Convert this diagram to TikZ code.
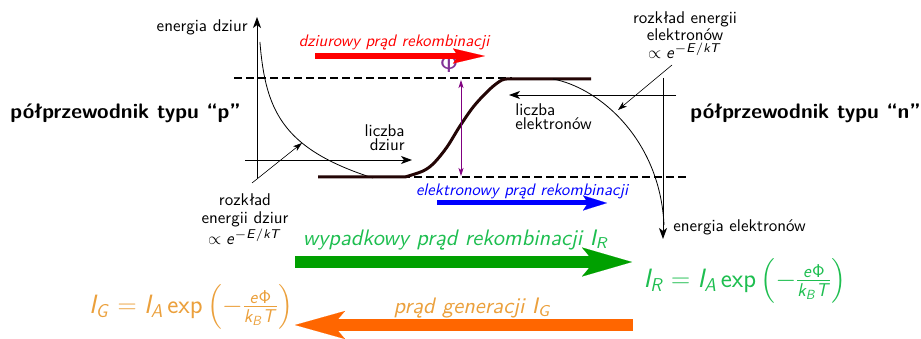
\RequirePackage{fix-cm}
\documentclass[tikz,border=0pt]{standalone}
\usepackage{exscale}
\usetikzlibrary{arrows.meta}
% sans-serif letters for the formulas
\DeclareMathAlphabet{\mathssup}{OT1}{cmss}{m}{n}
\DeclareMathAlphabet{\mathssit}{OT1}{cmss}{m}{sl}
\definecolor{holered}{RGB}{255,0,0}
\definecolor{elblue}{RGB}{0,0,255}
\definecolor{netgreen}{RGB}{0,160,0}
\definecolor{netgreentext}{RGB}{30,190,80}
\definecolor{genorange}{RGB}{255,102,0}
\definecolor{genorangetext}{RGB}{235,160,60}
\definecolor{phipurple}{RGB}{128,0,128}
\definecolor{phitext}{RGB}{130,50,150}
\definecolor{bandbrown}{RGB}{35,5,5}
% Boltzmann factor with a fairly large exponent
\newcommand{\boltz}{$\propto\mathssit{e}^{\hbox{\fontsize{7.5}{8}\selectfont$-\mathssit{E}/\mathssit{kT}$}}$}
% current formula I_X = I_A exp(-e Phi / k_B T)
\newcommand{\curfml}[1]{$\mathssit{I}_{\mathssit{#1}} = \mathssit{I}_{\mathssit{A}}\,\mathssup{exp}\left(\vrule height 29pt depth 16pt width 0pt -\frac{\mathssit{e}\mathssup{\Phi}}{\mathssit{k}_{\mathssit{B}}\mathssit{T}}\right)$}
\begin{document}
\begin{tikzpicture}[x=1pt,y=-1pt,
  every node/.style={font=\sffamily, inner sep=0pt},
  smalltxt/.style={font=\sffamily\fontsize{10}{10}\selectfont, scale=1.7, align=center},
  boldtxt/.style={font=\sffamily\bfseries\fontsize{21}{24}\selectfont},
  curtxt/.style={font=\sffamily\slshape\fontsize{10}{12}\selectfont, scale=1.67},
  bigtxt/.style={font=\sffamily\slshape\fontsize{10}{12}\selectfont, scale=2.24},
  formula/.style={font=\sffamily\fontsize{26.5}{30}\selectfont},
  axis/.style={line width=0.8pt, -{Stealth[length=11pt,width=8pt,inset=3pt]}},
  pointer/.style={line width=0.6pt, -{Stealth[length=9pt,width=6pt,inset=2.5pt]}},
  dashline/.style={line width=1.1pt, dash pattern=on 8pt off 4pt},
  band/.style={line width=3pt, draw=bandbrown, line join=round},
  curve/.style={line width=0.8pt},
]
\useasboundingbox (0,0) rectangle (921,339);

% ---- hole side (p type) ----
\coordinate (hAxB) at (257,178);
\coordinate (hAxT) at (257,17);
\draw[axis] (hAxB) -- (hAxT);
\node[smalltxt, anchor=east] (holeE) at (248,27) {energia dziur};
\coordinate (hNumL) at (245,160);
\coordinate (hNumR) at (412,160);
\draw[axis] (hNumL) -- (hNumR);
\node[smalltxt, font=\sffamily\fontsize{10}{8.2}\selectfont, align=right, anchor=east] (holeN) at (405,138) {liczba\\dziur};
\draw[curve] plot[domain=42:178, samples=80] ({257+116*exp(-(178-\x)/37)}, \x);
\node[smalltxt, font=\sffamily\fontsize{10}{10.5}\selectfont] (holeDist) at (245,219) {rozkład\\energii dziur\\\boltz};
\coordinate (hPtrS) at (252,183);
\coordinate (hPtrE) at (302,143);
\draw[pointer] (hPtrS) -- (hPtrE);

% ---- band edges ----
\coordinate (topL) at (234,78);
\coordinate (topR) at (512,78);
\draw[dashline] (topL) -- (topR);
\coordinate (botL) at (318,177);
\coordinate (botR) at (688,177);
\draw[dashline] (botL) -- (botR);
\draw[band] (318,177) -- (405,177)
  plot[smooth, tension=0.55] coordinates {(405,177) (423,171) (434,163) (447,147) (460,126) (474,106) (490,89) (502,80) (510,79)}
  -- (591,79);

% barrier height
\coordinate (pA) at (461,80);
\coordinate (pB) at (461,176);
\draw[phipurple, line width=0.8pt, {Stealth[length=8pt,width=5pt,inset=2pt]}-{Stealth[length=8pt,width=5pt,inset=2pt]}] (pA) -- (pB);
\node[text=phitext, font=\sffamily\fontsize{27}{30}\selectfont] (phi) at (449,63) {$\mathssup{\Phi}$};

% ---- electron side (n type) ----
\coordinate (eAxT) at (663,78);
\coordinate (eAxB) at (663,239);
\draw[axis] (eAxT) -- (eAxB);
\node[smalltxt, anchor=west] (elE) at (673,227) {energia elektronów};
\coordinate (eNumR) at (676,95);
\coordinate (eNumL) at (509,95);
\draw[axis] (eNumR) -- (eNumL);
\node[smalltxt, font=\sffamily\fontsize{10}{8.2}\selectfont, align=left, anchor=north west] (elN) at (515,103) {liczba\\elektronów};
\draw[curve] (553,79) .. controls (600,88) and (660,140) .. (664,225);
\node[smalltxt, font=\sffamily\fontsize{10}{10.5}\selectfont] (elDist) at (685,35) {rozkład energii\\elektronów\\\boltz};
\coordinate (ePtrS) at (672,65);
\coordinate (ePtrE) at (618,110);
\draw[pointer] (ePtrS) -- (ePtrE);

% ---- region labels ----
\node[boldtxt] (pSide) at (125.5,113) {półprzewodnik typu “p”};
\node[boldtxt] (nSide) at (805.5,113) {półprzewodnik typu “n”};

% ---- recombination currents ----
\node[curtxt, text=holered] (holeCur) at (394,42) {dziurowy prąd rekombinacji};
\coordinate (hcA) at (315,56);
\coordinate (hcB) at (485,56);
\draw[holered, line width=6pt, -{Stealth[length=32pt,width=15pt,inset=5pt,line width=0.1pt]}] (hcA) -- (hcB);

\node[curtxt, text=elblue] (elCur) at (522,191) {elektronowy prąd rekombinacji};
\coordinate (ecA) at (437,203);
\coordinate (ecB) at (607,203);
\draw[elblue, line width=5pt, -{Stealth[length=24pt,width=15pt,inset=5pt,line width=0.1pt]}] (ecA) -- (ecB);

% ---- net recombination current ----
\node[bigtxt, text=netgreentext] (netCur) at (456,240) {wypadkowy prąd rekombinacji $\mathssit{I}_{\mathssit{R}}$};
\coordinate (ncA) at (295,262);
\coordinate (ncB) at (632,262);
\draw[netgreen, line width=12pt, -{Stealth[length=50pt,width=29pt,inset=12pt,line width=0.1pt]}] (ncA) -- (ncB);
\node[formula, text=netgreentext] (irEq) at (745,281) {\curfml{R}};

% ---- generation current ----
\node[bigtxt, text=genorangetext] (genCur) at (473,308) {prąd generacji $\mathssit{I}_{\mathssit{G}}$};
\coordinate (gcA) at (633,325);
\coordinate (gcB) at (295,325);
\draw[genorange, line width=12pt, -{Stealth[length=50pt,width=28pt,inset=12pt,line width=0.1pt]}] (gcA) -- (gcB);
\node[formula, text=genorangetext] (igEq) at (191,307) {\curfml{G}};
\end{tikzpicture}
\end{document}
